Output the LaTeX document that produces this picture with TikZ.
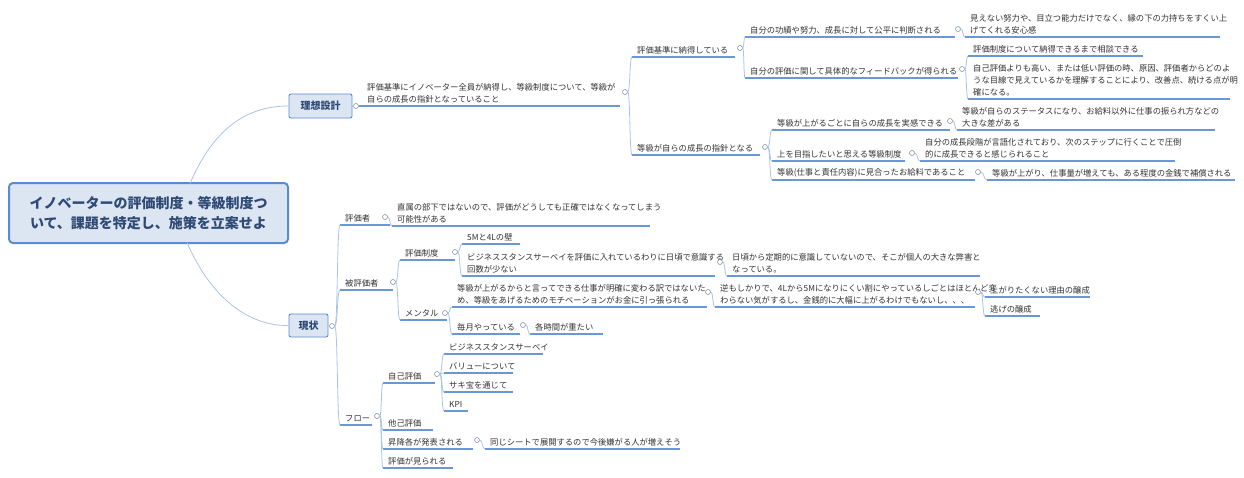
\documentclass[tikz,border=0pt]{standalone}
\usepackage{fontspec}
\setmainfont{Noto Sans CJK JP}
\usetikzlibrary{calc}
\definecolor{ulc}{HTML}{6A97D6}
\definecolor{cnc}{HTML}{A9C4EA}
\definecolor{boxf}{HTML}{DCE6F2}
\definecolor{boxd}{HTML}{5B8BD0}
\definecolor{rtxt}{HTML}{2F4A75}
\tikzset{
 ul/.style={draw=ulc,line width=1.1pt},
 conn/.style={draw=cnc,line width=0.8pt},
 txt/.style={inner sep=0pt,align=left,font=\fontsize{8.3}{12}\selectfont,text=black!80},
 circ/.style={circle,draw=gray!60!ulc,line width=0.5pt,inner sep=0pt,minimum size=5pt,fill=white},
 mbox/.style={rounded corners=2pt,draw=boxd,fill=boxf,line width=0.9pt,font=\fontsize{10}{12}\selectfont\bfseries,text=rtxt,inner sep=0pt},
}
\newcommand\tn[5]{\draw[ul] (#2,#3) coordinate (#1) -- (#4,#3);
 \node[txt,anchor=south west] (#1t) at (#2+5,#3-3) {#5};}
\newcommand\cc[3]{\node[circ] (#1) at (#2,#3) {};}
\newcommand\cn[2]{\draw[conn] let \p1=(#1.east), \p2=(#2) in (\p1) .. controls ({\x1+0.6*(\x2-\x1)},\y1) and ({\x1+0.4*(\x2-\x1)},\y2) .. (\p2);}
\begin{document}
\begin{tikzpicture}[x=1pt,y=-1pt]
\useasboundingbox[fill=white] (0,0) rectangle (1244,477);
% root
\node[rounded corners=4pt,draw=boxd,fill=boxf,line width=2pt,minimum width=279pt,minimum height=60pt,align=center,font=\fontsize{14}{20}\selectfont\bfseries,text=rtxt] (root) at (148.5,213) {イノベーターの評価制度・等級制度つ\\いて、課題を特定し、施策を立案せよ};
\node[mbox,minimum width=63pt,minimum height=24pt] (ideal) at (320.5,106) {理想設計};
\node[mbox,minimum width=39pt,minimum height=23pt] (now) at (308.5,325.5) {現状};
\coordinate (rt) at (190,183.5);
\coordinate (rb) at (187,242.5);
\draw[conn] (rt) .. controls (215,125) and (250,106) .. (ideal.west);
\draw[conn] (rb) .. controls (212,300) and (250,326) .. (now.west);
\cc{cI}{356}{106}
\cc{cN}{332}{326}
\draw[conn] (ideal.east) -- (cI.west);
\draw[conn] (now.east) -- (cN.west);
% ---- ideal
\tn{a}{362}{106}{620}{評価基準にイノベーター全員が納得し、等級制度について、等級が\\自らの成長の指針となっていること}
\draw[ul] (cI.east) -- (a);
\cc{ca}{625}{92}
\tn{a1}{632}{57}{735}{評価基準に納得している}
\tn{a2}{632}{155}{760}{等級が自らの成長の指針となる}
\cn{ca}{a1}\cn{ca}{a2}
\cc{ca1}{740}{48}
\tn{a11}{745}{37}{955}{自分の功績や努力、成長に対して公平に判断される}
\tn{a12}{745}{78}{958}{自分の評価に関して具体的なフィードバックが得られる}
\cn{ca1}{a11}\cn{ca1}{a12}
\cc{ca11}{958}{29}
\tn{a111}{965}{37}{1220}{見えない努力や、目立つ能力だけでなく、縁の下の力持ちをすくい上\\げてくれる安心感}
\cn{ca11}{a111}
\cc{ca12}{962}{69}
\tn{a121}{968}{56}{1143}{評価制度について納得できるまで相談できる}
\tn{a122}{968}{99}{1230}{自己評価よりも高い、または低い評価の時、原因、評価者からどのよ\\うな目線で見えているかを理解することにより、改善点、続ける点が明\\確になる。}
\cn{ca12}{a121}\cn{ca12}{a122}
\cc{ca2}{765}{147}
\tn{a21}{772}{130}{950}{等級が上がるごとに自らの成長を実感できる}
\tn{a22}{772}{161}{905}{上を目指したいと思える等級制度}
\tn{a23}{772}{180}{975}{等級(仕事と責任内容)に見合ったお給料であること}
\cn{ca2}{a21}\cn{ca2}{a22}\cn{ca2}{a23}
\cc{ca21}{950}{121}
\tn{a211}{957}{130}{1215}{等級が自らのステータスになり、お給料以外に仕事の振られ方などの\\大きな差がある}
\cn{ca21}{a211}
\cc{ca22}{912}{153}
\tn{a221}{920}{161}{1175}{自分の成長段階が言語化されており、次のステップに行くことで圧倒\\的に成長できると感じられること}
\cn{ca22}{a221}
\cc{ca23}{978}{172}
\tn{a231}{987}{180}{1235}{等級が上がり、仕事量が増えても、ある程度の金銭で補償される}
\cn{ca23}{a231}
% ---- now
\tn{b1}{340}{225}{390}{評価者}
\tn{b2}{340}{290}{393}{被評価者}
\tn{b3}{340}{425}{372}{フロー}
\cn{cN}{b1}\cn{cN}{b2}\cn{cN}{b3}
\cc{cb1}{385}{217}
\tn{b11}{392}{226}{650}{直属の部下ではないので、評価がどうしても正確ではなくなってしまう\\可能性がある}
\cn{cb1}{b11}
\cc{cb2}{393}{282}
\tn{b21}{400}{260}{455}{評価制度}
\tn{b22}{400}{320}{447}{メンタル}
\cn{cb2}{b21}\cn{cb2}{b22}
\cc{cb21}{455}{252}
\tn{b211}{462}{244}{520}{5Mと4Lの壁}
\tn{b212}{462}{276}{715}{ビジネススタンスサーベイを評価に入れているわりに日頃で意識する\\回数が少ない}
\cn{cb21}{b211}\cn{cb21}{b212}
\cc{cb212}{720}{262}
\tn{b2121}{727}{276}{980}{日頃から定期的に意識していないので、そこが個人の大きな弊害と\\なっている。}
\cn{cb212}{b2121}
\cc{cb22}{445}{313}
\tn{b221}{452}{307}{707}{等級が上がるからと言ってできる仕事が明確に変わる訳ではないた\\め、等級をあげるためのモチベーションがお金に引っ張られる}
\tn{b222}{452}{334}{520}{毎月やっている}
\cn{cb22}{b221}\cn{cb22}{b222}
\cc{cb221}{708}{292}
\tn{b2211}{715}{307}{975}{逆もしかりで、4Lから5Mになりにくい割にやっているしごとはほとんど変\\わらない気がするし、金銭的に大幅に上がるわけでもないし、、、}
\cn{cb221}{b2211}
\cc{cb2211}{978}{292}
\tn{b22111}{985}{297}{1090}{上がりたくない理由の醸成}
\tn{b22112}{985}{316}{1040}{逃げの醸成}
\cn{cb2211}{b22111}\cn{cb2211}{b22112}
\cc{cb222}{523}{325}
\tn{b2221}{530}{334}{603}{各時間が重たい}
\cn{cb222}{b2221}
\cc{cb3}{377}{416}
\tn{b31}{383}{383}{435}{自己評価}
\tn{b32}{383}{430}{433}{他己評価}
\tn{b33}{383}{449}{473}{昇降各が発表される}
\tn{b34}{383}{468}{453}{評価が見られる}
\cn{cb3}{b31}\cn{cb3}{b32}\cn{cb3}{b33}\cn{cb3}{b34}
\cc{cb31}{437}{374}
\tn{b311}{444}{354}{543}{ビジネススタンスサーベイ}
\tn{b312}{444}{373}{513}{バリューについて}
\tn{b313}{444}{392}{513}{サキ宝を通じて}
\tn{b314}{444}{411}{468}{KPI}
\cn{cb31}{b311}\cn{cb31}{b312}\cn{cb31}{b313}\cn{cb31}{b314}
\cc{cb33}{477}{440}
\tn{b331}{485}{449}{680}{同じシートで展開するので今後嫌がる人が増えそう}
\cn{cb33}{b331}
\end{tikzpicture}
\end{document}
